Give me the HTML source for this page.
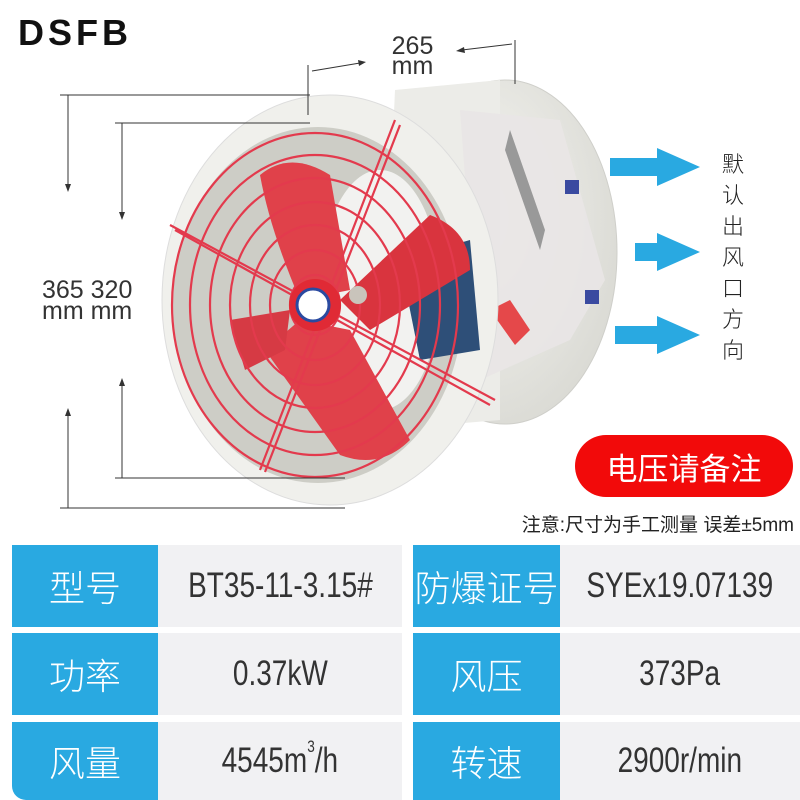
<!DOCTYPE html>
<html><head><meta charset="utf-8"><style>
html,body{margin:0;padding:0;background:#fff}
body{width:800px;height:800px;position:relative;overflow:hidden;font-family:"Liberation Sans","Noto Sans CJK SC",sans-serif}
.c{position:absolute;display:flex;align-items:center;justify-content:center}
.b{background:#29a9e1;color:#fff;font-size:36px;font-family:"Noto Sans CJK SC",sans-serif;font-weight:300}
.g{background:#f1f1f3;color:#333;font-size:35px;font-family:"Liberation Sans","Noto Sans CJK SC",sans-serif}
.g span{display:inline-block;transform:scaleX(0.8);white-space:nowrap}
sup{font-size:17px;position:relative;top:-4px;vertical-align:top}
</style></head><body>
<svg width="800" height="800" style="position:absolute;left:0;top:0">
<defs>
<radialGradient id="bd" cx="0.4" cy="0.4" r="0.7"><stop offset="0" stop-color="#f6f6f2"/><stop offset="1" stop-color="#d8d8d2"/></radialGradient>
</defs>
<ellipse cx="505" cy="252" rx="112" ry="172" fill="url(#bd)" stroke="#cfcfca"/>
<path d="M395 90 L500 80 L500 420 L380 430Z" fill="#ecece8"/>
<path d="M460 110 L560 120 L605 280 L570 340 L480 380Z" fill="#e9e6e6" opacity="0.9"/>
<path d="M510 130 L545 230 L540 250 L505 150Z" fill="#999"/>
<path d="M490 310 L510 300 L530 330 L515 345Z" fill="#e5484a"/>
<rect x="565" y="180" width="14" height="14" fill="#3a4aa0"/><rect x="585" y="290" width="14" height="14" fill="#3a4aa0"/>
<ellipse cx="330" cy="300" rx="168" ry="205" fill="#f0f0ec" stroke="#ddd"/>
<ellipse cx="318" cy="305" rx="145" ry="178" fill="#cdcdc6"/>
<ellipse cx="380" cy="290" rx="60" ry="120" fill="#f2f2f0"/>
<path d="M400 260 L470 240 L480 350 L420 360Z" fill="#2e4f78"/>
<path d="M260 175 Q290 150 330 175 L350 290 L300 300 Q270 230 260 175Z" fill="#e0414a"/>
<path d="M340 300 L430 215 Q470 230 470 270 L370 330Z" fill="#d9343e"/>
<path d="M300 320 L350 330 L410 440 Q380 470 340 455 L265 350Z" fill="#e0414a"/>
<path d="M230 320 L290 310 L285 350 L245 370Z" fill="#d63a44"/>
<g fill="none" stroke="#e33a4d" stroke-width="2.2">
<ellipse cx="315" cy="305" rx="25" ry="30"/>
<ellipse cx="315" cy="305" rx="45" ry="55"/>
<ellipse cx="315" cy="305" rx="65" ry="80"/>
<ellipse cx="315" cy="305" rx="85" ry="103"/>
<ellipse cx="315" cy="305" rx="105" ry="127"/>
<ellipse cx="315" cy="305" rx="125" ry="150"/>
<ellipse cx="315" cy="305" rx="143" ry="172"/>
<path d="M170 225 L495 400 M175 230 L490 405"/>
<path d="M395 120 L260 470 M400 125 L265 472"/>
</g>
<circle cx="315" cy="305" r="26" fill="#e02a35"/>
<circle cx="313" cy="305" r="16" fill="#fff" stroke="#2a4aa0" stroke-width="3"/>
<circle cx="358" cy="295" r="9" fill="#c9c4bb"/>
<g stroke="#333" stroke-width="1" fill="none">
<path d="M60 95 L310 95 M115 123 L310 123 M115 478 L345 478 M60 508 L345 508"/>
<path d="M68 95 L68 190 M122 123 L122 218 M122 478 L122 380 M68 508 L68 410"/>
<path d="M308 65 L308 115 M515 40 L515 84 M312 71 L360 63 M512 44 L462 50"/>
</g>
<g fill="#333">
<path d="M65 184 L68 192 L71 184Z M119 212 L122 220 L125 212Z M119 386 L122 378 L125 386Z M65 416 L68 408 L71 416Z"/>
<path d="M358 60 L366 62 L359 66Z M464 47 L456 51 L465 53Z"/>
</g>
<g fill="#29a9e1">
<path d="M610 158 L657 158 L657 148 L700 167 L657 186 L657 176 L610 176Z"/>
<path d="M635 243 L657 243 L657 233 L700 252 L657 271 L657 261 L635 261Z"/>
<path d="M615 326 L657 326 L657 316 L700 335 L657 354 L657 344 L615 344Z"/>
</g>
<rect x="575" y="435" width="218" height="62" rx="31" fill="#f20a0a"/>
</svg>
<div style="position:absolute;left:18px;top:12px;font:bold 36px 'Liberation Sans',sans-serif;letter-spacing:4px;color:#111">DSFB</div>
<div style="position:absolute;left:385px;top:36px;font-size:25px;color:#333;line-height:20px;text-align:center;width:55px">265<br>mm</div>
<div style="position:absolute;left:42px;top:280px;font-size:25px;color:#333;line-height:21px;white-space:nowrap">365 320<br>mm mm</div>
<div style="position:absolute;left:718px;top:148px;width:30px;font-size:22px;line-height:31px;color:#222;font-family:'Noto Sans CJK SC',sans-serif;font-weight:300;text-align:center">默<br>认<br>出<br>风<br>口<br>方<br>向</div>
<div class="c" style="left:575px;top:435px;width:218px;height:62px;color:#fff;font-size:31px;font-family:'Noto Sans CJK SC',sans-serif">电压请备注</div>
<div style="position:absolute;right:6px;top:510px;font-size:19px;color:#222;font-family:'Liberation Sans','Noto Sans CJK SC',sans-serif;white-space:nowrap">注意:尺寸为手工测量 误差±5mm</div>
<div class="c b" style="left:12px;top:545px;width:146px;height:82px">型号</div>
<div class="c g" style="left:158px;top:545px;width:244px;height:82px"><span>BT35-11-3.15#</span></div>
<div class="c b" style="left:413px;top:545px;width:147px;height:82px">防爆证号</div>
<div class="c g" style="left:560px;top:545px;width:240px;height:82px"><span>SYEx19.07139</span></div>
<div class="c b" style="left:12px;top:633px;width:146px;height:82px">功率</div>
<div class="c g" style="left:158px;top:633px;width:244px;height:82px"><span>0.37kW</span></div>
<div class="c b" style="left:413px;top:633px;width:147px;height:82px">风压</div>
<div class="c g" style="left:560px;top:633px;width:240px;height:82px"><span>373Pa</span></div>
<div class="c b" style="left:12px;top:722px;width:146px;height:78px;border-bottom-left-radius:14px">风量</div>
<div class="c g" style="left:158px;top:722px;width:244px;height:78px"><span>4545m<sup>3</sup>/h</span></div>
<div class="c b" style="left:413px;top:722px;width:147px;height:78px">转速</div>
<div class="c g" style="left:560px;top:722px;width:240px;height:78px"><span>2900r/min</span></div>
</body></html>
